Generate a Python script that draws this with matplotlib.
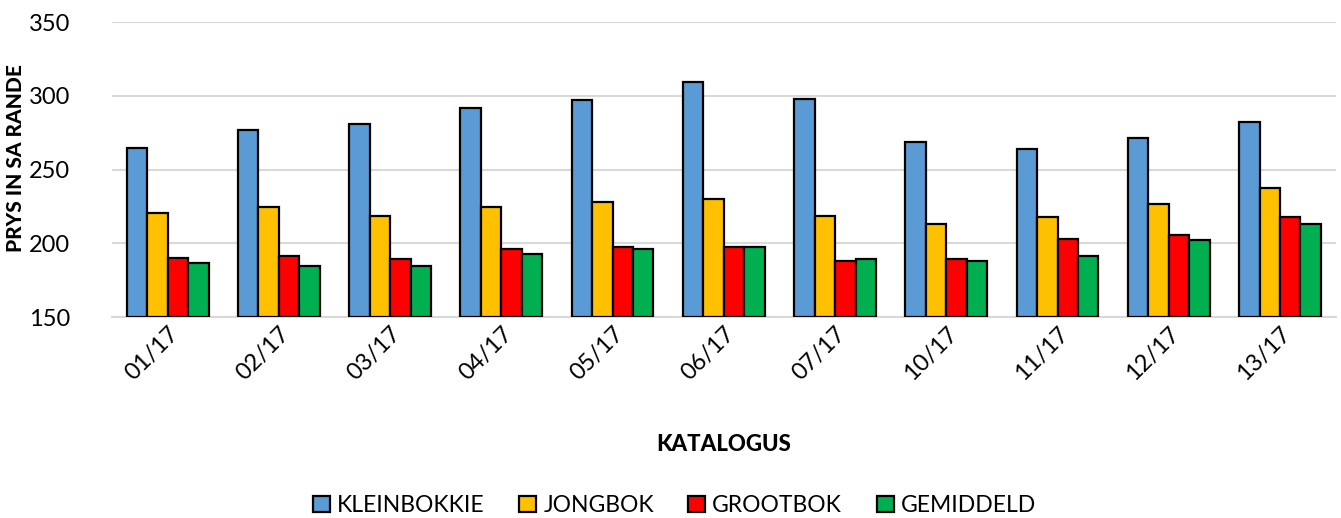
import numpy as np
import matplotlib.pyplot as plt

plt.rcParams['font.family'] = ['Lato', 'DejaVu Sans']

# data
katalogus = ['01/17', '02/17', '03/17', '04/17', '05/17', '06/17',
             '07/17', '10/17', '11/17', '12/17', '13/17']
kleinbokkie = [264.4, 276.5, 280.8, 291.4, 297.1, 309.5, 298.0, 268.4, 263.7, 271.1, 282.4]
jongbok = [220.2, 224.9, 218.3, 224.4, 228.1, 230.1, 218.6, 213.4, 217.7, 226.7, 237.7]
grootbok = [190.2, 191.3, 189.2, 195.8, 197.4, 197.4, 188.2, 189.0, 203.2, 205.3, 217.5]
gemiddeld = [186.8, 184.8, 184.8, 192.6, 195.8, 197.8, 189.2, 188.2, 191.5, 201.9, 213.4]

series = [('KLEINBOKKIE', kleinbokkie, '#5B9BD5'),
          ('JONGBOK', jongbok, '#FFC000'),
          ('GROOTBOK', grootbok, '#FF0000'),
          ('GEMIDDELD', gemiddeld, '#00B050')]

fig = plt.figure(figsize=(13.41, 5.18), dpi=100)
ax = fig.add_axes([0.0835, 0.388, 0.9125, 0.5695])

x = np.arange(len(katalogus))
w = 0.184
for i, (name, vals, col) in enumerate(series):
    ax.bar(x + (i - 1.5) * w, np.array(vals) - 150, width=w, bottom=150,
           color=col, edgecolor='black', linewidth=1.6, label=name, zorder=3)

ax.set_ylim(150, 350)
ax.set_xlim(-0.5, len(katalogus) - 0.5)
ax.set_yticks(range(150, 351, 50))
ax.yaxis.grid(True, color='#d9d9d9', linewidth=1.5, zorder=0)
for s in ['top', 'right', 'left']:
    ax.spines[s].set_visible(False)
ax.spines['bottom'].set_color('#d9d9d9')
ax.spines['bottom'].set_linewidth(1.5)
ax.tick_params(axis='both', length=0, labelsize=17, colors='black')
ax.tick_params(axis='y', pad=30)
ax.tick_params(axis='x', pad=4)
ax.set_xticks(x)
ax.set_xticklabels(katalogus, rotation=45, ha='right', rotation_mode='anchor')

ax.set_ylabel('PRYS IN SA RANDE', fontsize=15, fontweight='black')
ax.yaxis.set_label_coords(-0.071, 0.54)
ax.set_xlabel('KATALOGUS', fontsize=16, fontweight='black')
ax.xaxis.set_label_coords(0.5, -0.395)

fig.legend(loc='center', bbox_to_anchor=(0.503, 0.024), ncol=4, frameon=False,
           fontsize=16.5, handlelength=0.75, handleheight=0.75, columnspacing=1.5,
           handletextpad=0.3)

fig.savefig('out.png', dpi=100)
